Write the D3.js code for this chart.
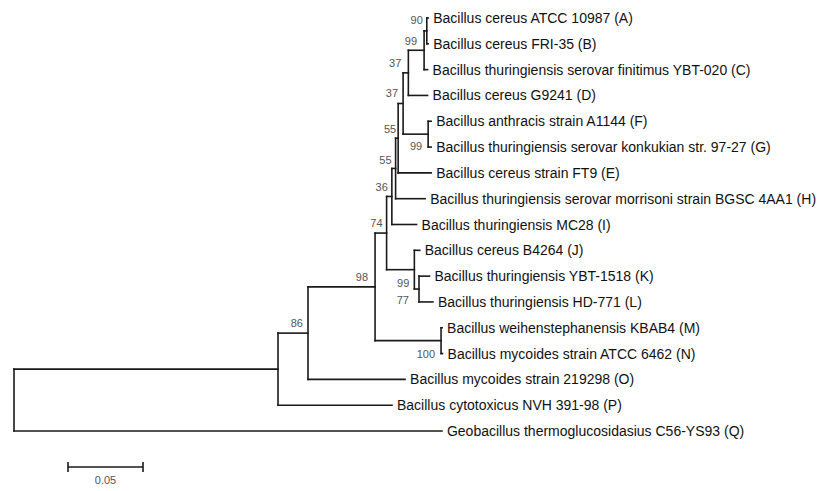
<!DOCTYPE html>
<html><head><meta charset="utf-8">
<script src="https://cdn.jsdelivr.net/npm/d3@7"></script>
<style>html,body{margin:0;padding:0;background:#fff;} svg{display:block;}</style>
</head><body>
<svg id="chart" width="826" height="491"></svg>
<script>
// ---- data ----
const nodeIds   = ["root","n1","Q","n86","P","n98","O","n74","nMN","n36","nJKL","n55b","I","n55a","H","n37b","E","n37a","nFG","nABC","D","nAB","C","A","B","F","G","J","nKL","K","L","M","N"];
const parentIds = ["",    "root","root","n1","n1","n86","n86","n98","n98","n74","n74","n36","n36","n55b","n55b","n55a","n55a","n37b","n37b","n37a","n37a","nABC","nABC","nAB","nAB","nFG","nFG","nJKL","nJKL","nKL","nKL","nMN","nMN"];
const branchLengths = [0, 0.1760, 0.2853, 0.0200, 0.0760, 0.0447, 0.0647, 0.0077, 0.0440, 0.0035, 0.0185, 0.0025, 0.0165, 0.0017, 0.0197, 0.0033, 0.0220, 0.0035, 0.0167, 0.0105, 0.0128, 0.0018, 0.0023, 0.0009, 0.0009, 0.0020, 0.0020, 0.0036, 0.0031, 0.0070, 0.0093, 0.0007, 0.0010];
const bootstrap = {n86:86, n98:98, n74:74, nMN:100, n36:36, nJKL:99, n55b:55, n55a:55, n37b:37, nFG:99, n37a:37, nABC:99, nAB:90, nKL:77};
const leafNames = {
  A:"Bacillus cereus ATCC 10987 (A)",
  B:"Bacillus cereus FRI-35 (B)",
  C:"Bacillus thuringiensis serovar finitimus YBT-020 (C)",
  D:"Bacillus cereus G9241 (D)",
  F:"Bacillus anthracis strain A1144 (F)",
  G:"Bacillus thuringiensis serovar konkukian str. 97-27 (G)",
  E:"Bacillus cereus strain FT9 (E)",
  H:"Bacillus thuringiensis serovar morrisoni strain BGSC 4AA1 (H)",
  I:"Bacillus thuringiensis MC28 (I)",
  J:"Bacillus cereus B4264 (J)",
  K:"Bacillus thuringiensis YBT-1518 (K)",
  L:"Bacillus thuringiensis HD-771 (L)",
  M:"Bacillus weihenstephanensis KBAB4 (M)",
  N:"Bacillus mycoides strain ATCC 6462 (N)",
  O:"Bacillus mycoides strain 219298 (O)",
  P:"Bacillus cytotoxicus NVH 391-98 (P)",
  Q:"Geobacillus thermoglucosidasius C56-YS93 (Q)"
};
const scaleBarValue = 0.05;
const scaleBarLabel = "0.05";

// ---- style / layout ----
const labelOffset = { // placement of bootstrap labels relative to node
  nAB:{dx:-4,dy:-11}, nABC:{dx:-7,dy:-9}, n37a:{dx:-7,dy:-10}, n37b:{dx:-5,dy:-10},
  n55a:{dx:-2,dy:-9}, nFG:{dx:-6,dy:12}, n55b:{dx:-4,dy:-8}, n36:{dx:-4,dy:-9},
  n74:{dx:-4,dy:-10}, nJKL:{dx:-5,dy:13}, nKL:{dx:-10,dy:11}, n98:{dx:-7,dy:-10},
  nMN:{dx:-6,dy:13}, n86:{dx:-5,dy:-10}
};

const svg = d3.select("#chart");
const rows = nodeIds.map((id,i)=>({id, parent: parentIds[i] || null, len: branchLengths[i]}));
const root = d3.stratify().id(d=>d.id).parentId(d=>d.parent)(rows);

// cumulative distance
root.eachBefore(n => { n.dist = n.parent ? n.parent.dist + n.data.len : 0; });
const leaves = root.leaves();
const x = d3.scaleLinear().domain([0, 0.3]).range([14, 464]);
const y = d3.scaleLinear().domain([0, leaves.length - 1]).range([18, 431]);
leaves.forEach((l,i)=>{ l.yy = y(i); });
root.eachAfter(n => { if (n.children) n.yy = (n.children[0].yy + n.children[n.children.length-1].yy)/2; });

const g = svg.append("g");
const stroke = "#1a1a1a";
// horizontal branches
g.selectAll("line.h").data(root.descendants().filter(n=>n.parent)).join("line")
  .attr("x1", n=>x(n.parent.dist)).attr("x2", n=>x(n.dist))
  .attr("y1", n=>n.yy).attr("y2", n=>n.yy)
  .attr("stroke", stroke).attr("stroke-width", 1.6).attr("stroke-linecap","square");
// vertical connectors
g.selectAll("line.v").data(root.descendants().filter(n=>n.children)).join("line")
  .attr("x1", n=>x(n.dist)).attr("x2", n=>x(n.dist))
  .attr("y1", n=>n.children[0].yy).attr("y2", n=>n.children[n.children.length-1].yy)
  .attr("stroke", stroke).attr("stroke-width", 1.6).attr("stroke-linecap","square");
// leaf labels
g.selectAll("text.leaf").data(leaves).join("text")
  .attr("x", n=>x(n.dist)+5).attr("y", n=>n.yy).attr("dy","0.36em")
  .attr("font-family","Arial, 'Liberation Sans', sans-serif").attr("font-size",14)
  .attr("fill","#111").text(n=>leafNames[n.id]);
// bootstrap labels
g.selectAll("text.bs").data(root.descendants().filter(n=>bootstrap[n.id]!==undefined)).join("text")
  .attr("x", n=>x(n.dist)+labelOffset[n.id].dx).attr("y", n=>n.yy+labelOffset[n.id].dy).attr("dy","0.36em")
  .attr("text-anchor","end")
  .attr("font-family","Arial, 'Liberation Sans', sans-serif").attr("font-size",11)
  .attr("fill","#555").text(n=>bootstrap[n.id]);

// scale bar
const sbX = 68, sbY = 467, sbW = x(scaleBarValue) - x(0);
const sb = svg.append("g");
sb.append("line").attr("x1",sbX).attr("x2",sbX+sbW).attr("y1",sbY).attr("y2",sbY).attr("stroke",stroke).attr("stroke-width",1.6);
sb.append("line").attr("x1",sbX).attr("x2",sbX).attr("y1",sbY-5).attr("y2",sbY+5).attr("stroke",stroke).attr("stroke-width",1.6);
sb.append("line").attr("x1",sbX+sbW).attr("x2",sbX+sbW).attr("y1",sbY-5).attr("y2",sbY+5).attr("stroke",stroke).attr("stroke-width",1.6);
sb.append("text").attr("x",sbX+sbW/2).attr("y",sbY+13).attr("dy","0.36em").attr("text-anchor","middle")
  .attr("font-family","Arial, 'Liberation Sans', sans-serif").attr("font-size",11).attr("fill","#555").text(scaleBarLabel);
</script>
</body></html>
